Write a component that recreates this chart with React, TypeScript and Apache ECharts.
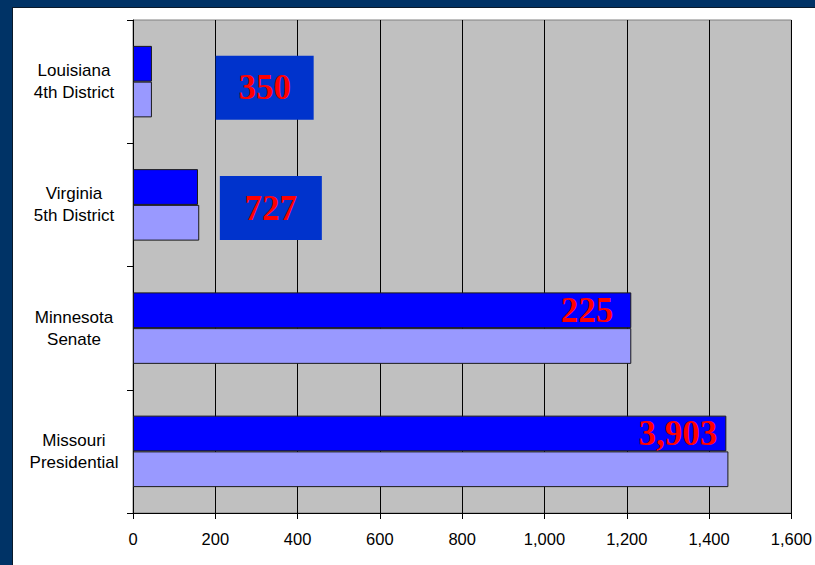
import React, { useEffect, useRef } from "react";
import * as echarts from "echarts";

const categories = ["Missouri\nPresidential", "Minnesota\nSenate", "Virginia\n5th District", "Louisiana\n4th District"];
const darkValues = [1442, 1211, 158, 46];
const lightValues = [1447, 1211, 161, 46];
const barLabels = ["3,903", "225", "", ""];
const barLabelDistance = [9, 18, 0, 0];
const boxLabels = ["350", "727"];
const boxCategories = ["Louisiana\n4th District", "Virginia\n5th District"];
const boxCenterValues = [320, 335];
const xTicks = { min: 0, max: 1600, interval: 200 };

export default function App() {
  const ref = useRef<HTMLDivElement>(null);
  useEffect(() => {
    if (!ref.current) return;
    const chart = echarts.init(ref.current, undefined, { renderer: "svg" });
    const redFont = {
      color: "#ff0000",
      fontFamily: "'Liberation Serif', 'Times New Roman', serif",
      fontSize: 35,
      fontWeight: "bold" as const,
    };
    chart.setOption({
      animation: false,
      backgroundColor: "#ffffff",
      grid: {
        left: 120,
        top: 12,
        right: 23,
        bottom: 52,
        show: true,
        backgroundColor: "#c0c0c0",
        borderColor: "#808080",
        borderWidth: 1,
      },
      xAxis: {
        type: "value",
        min: xTicks.min,
        max: xTicks.max,
        interval: xTicks.interval,
        axisLine: { show: true, lineStyle: { color: "#000", width: 1 } },
        axisTick: { show: true, length: 6, lineStyle: { color: "#000" } },
        splitLine: { show: true, lineStyle: { color: "#000", width: 1 } },
        axisLabel: {
          margin: 17,
          color: "#000",
          fontSize: 16.5,
          fontFamily: "'Liberation Sans', Arial, sans-serif",
          formatter: (v: number) => v.toLocaleString("en-US"),
        },
      },
      yAxis: {
        type: "category",
        data: categories,
        axisLine: { show: true, lineStyle: { color: "#000", width: 1 } },
        axisTick: { show: true, length: 6, lineStyle: { color: "#000" } },
        splitLine: { show: false },
        axisLabel: {
          align: "center",
          margin: 59,
          color: "#000",
          fontSize: 17,
          lineHeight: 22,
          fontFamily: "'Liberation Sans', Arial, sans-serif",
        },
      },
      series: [
        {
          type: "bar",
          name: "dark",
          barGap: "0%",
          barCategoryGap: "42%",
          itemStyle: { color: "#0000ff", borderColor: "#1a1a1a", borderWidth: 1 },
          data: darkValues.map((v, i) => ({
            value: v,
            label: {
              show: barLabels[i] !== "",
              position: "insideRight",
              distance: barLabelDistance[i],
              formatter: barLabels[i],
              ...redFont,
            },
          })),
          markPoint: {
            symbol: "rect",
            itemStyle: { color: "#0033cc" },
            label: { show: true, position: "inside", formatter: "{b}", ...redFont },
            data: boxLabels.map((t, i) => ({
              name: t,
              coord: [boxCenterValues[i], boxCategories[i]],
              symbolSize: i === 0 ? [98, 64] : [102, 64],
              symbolOffset: [0, i === 0 ? 24 : 21],
            })),
          },
        },
        {
          type: "bar",
          name: "light",
          barGap: "0%",
          barCategoryGap: "42%",
          itemStyle: { color: "#9999ff", borderColor: "#1a1a1a", borderWidth: 1 },
          data: lightValues,
        },
      ],
    });
    return () => chart.dispose();
  }, []);
  return (
    <div style={{ position: "fixed", left: 0, top: 0, width: 815, height: 565, background: "#003366" }}>
      <div
        ref={ref}
        style={{
          position: "absolute",
          left: 12,
          top: 7,
          width: 802,
          height: 557,
          borderLeft: "1px solid #0a1a2a",
          borderTop: "1px solid #0a1a2a",
          background: "#fff",
        }}
      />
    </div>
  );
}
